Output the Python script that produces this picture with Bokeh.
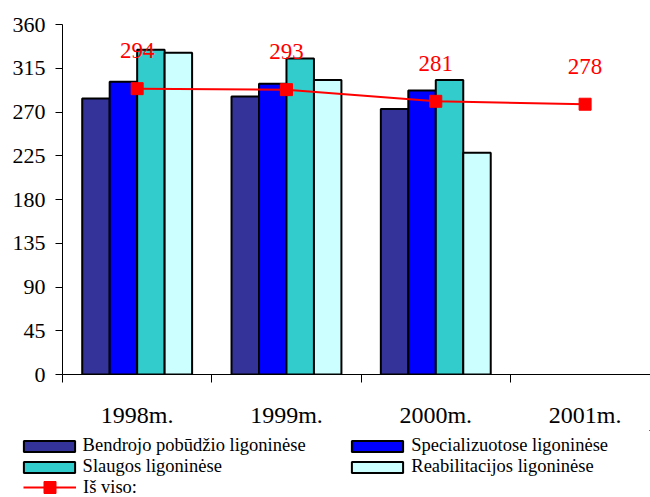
import numpy as np
from bokeh.plotting import figure
from bokeh.models import (ColumnDataSource, FixedTicker, Legend, LegendItem, Range1d)
from bokeh.core.properties import value
from bokeh.transform import dodge
from bokeh.embed import file_html
from bokeh.resources import INLINE

# ---- data ----
years = ["1998m.", "1999m.", "2000m.", "2001m."]
bar_years = ["1998m.", "1999m.", "2000m."]
bendrojo = [284, 286, 273]
specializuotose = [301, 299, 292]
slaugos = [334, 325, 303]
reabilitacijos = [331, 303, 228]
is_viso = [294, 293, 281, 278]

series_names = ["Bendrojo pobūdžio ligoninėse", "Specializuotose ligoninėse",
                "Slaugos ligoninėse", "Reabilitacijos ligoninėse"]
series_colors = ["#333399", "#0000FF", "#33CCCC", "#CCFFFF"]
total_name = "Iš viso:"
y_ticks = [0, 45, 90, 135, 180, 225, 270, 315, 360]

FONT = "Liberation Serif"
RED = "#FF0000"

x_bar = np.arange(len(bar_years)) + 0.5
x_line = np.arange(len(years)) + 0.5

bar_src = ColumnDataSource(dict(x=x_bar, b=bendrojo, s=specializuotose,
                                sl=slaugos, r=reabilitacijos))
line_src = ColumnDataSource(dict(x=x_line, y=is_viso, t=[str(v) for v in is_viso]))

H1 = 430
p = figure(width=650, height=H1, output_backend="svg", toolbar_location=None,
           x_range=Range1d(0, 3.938), y_range=Range1d(0, 360),
           min_border_left=62, min_border_right=0, min_border_top=24,
           min_border_bottom=H1 - 375)
p.outline_line_color = None
p.xgrid.grid_line_color = None
p.ygrid.grid_line_color = None

bw = 0.184
cols = ["b", "s", "sl", "r"]
for k, (c, col) in enumerate(zip(cols, series_colors)):
    p.vbar(x=dodge("x", (k - 1.5) * bw, range=p.x_range), top=c, width=bw,
           bottom=0, source=bar_src, fill_color=col, line_color="black",
           line_width=2)

p.line("x", "y", source=line_src, line_color=RED, line_width=2)
p.scatter("x", "y", source=line_src, marker="square", size=12,
          fill_color=RED, line_color=RED)
p.text("x", "y", text="t", source=line_src, text_color=RED,
       text_font=value(FONT), text_font_size="23px", text_align="center",
       text_baseline="alphabetic", y_offset=-38)

# axes
xa = p.xaxis[0]
xa.ticker = FixedTicker(ticks=list(x_line), minor_ticks=[0, 1, 2, 3, 4])
xa.major_label_overrides = {float(x): lab for x, lab in zip(x_line, years)}
xa.major_tick_out = 0
xa.major_tick_in = 0
xa.minor_tick_out = 8
xa.minor_tick_in = 0
xa.minor_tick_line_color = "black"
xa.axis_line_color = "black"
xa.major_label_text_font = FONT
xa.major_label_text_font_size = "24px"
xa.major_label_text_color = "black"
xa.major_label_standoff = 19

ya = p.yaxis[0]
ya.ticker = FixedTicker(ticks=y_ticks, minor_ticks=[])
ya.major_tick_out = 7
ya.major_tick_in = 0
ya.axis_line_color = "black"
ya.major_tick_line_color = "black"
ya.major_label_text_font = FONT
ya.major_label_text_font_size = "22px"
ya.major_label_text_color = "black"
ya.major_label_standoff = 10

# ---- legend panel (separate root, so its frame starts at x = 0) ----
H2 = 497 - H1
q = figure(width=650, height=H2, output_backend="svg", toolbar_location=None,
           x_range=Range1d(0, 1), y_range=Range1d(0, 1), min_border=0,
           x_axis_location=None, y_axis_location=None)
q.outline_line_color = None
q.xgrid.grid_line_color = None
q.ygrid.grid_line_color = None

# legend-key renderers (their data lies outside the visible range)
sw = [q.vbar(x=[5], top=[5], bottom=[4], width=0.1, fill_color=col,
             line_color="black", line_width=2) for col in series_colors]
lr = q.line(x=[5, 6], y=[5, 5], line_color=RED, line_width=2)
mr = q.scatter(x=[5], y=[5], marker="square", fill_color=RED, line_color=RED)

def mk_legend(items, loc, gw, gh, standoff):
    lg = Legend(items=items, location=loc, orientation="vertical",
                glyph_width=gw, glyph_height=gh, label_standoff=standoff,
                padding=0, margin=0, spacing=0, label_height=20,
                border_line_color=None, background_fill_alpha=0,
                label_text_font=FONT, label_text_font_size="18.5px",
                label_text_color="black")
    q.add_layout(lg)
    return lg

mk_legend([LegendItem(label=series_names[0], renderers=[sw[0]]),
           LegendItem(label=series_names[2], renderers=[sw[2]])],
          (16.6, 20), 64, 14, 2)
mk_legend([LegendItem(label=series_names[1], renderers=[sw[1]]),
           LegendItem(label=series_names[3], renderers=[sw[3]])],
          (345.3, 20), 64, 14, 2)
mk_legend([LegendItem(label=total_name, renderers=[lr, mr])],
          (23, -5), 53, 30, 7)

open("out.html", "w").write(file_html([p, q], INLINE))
